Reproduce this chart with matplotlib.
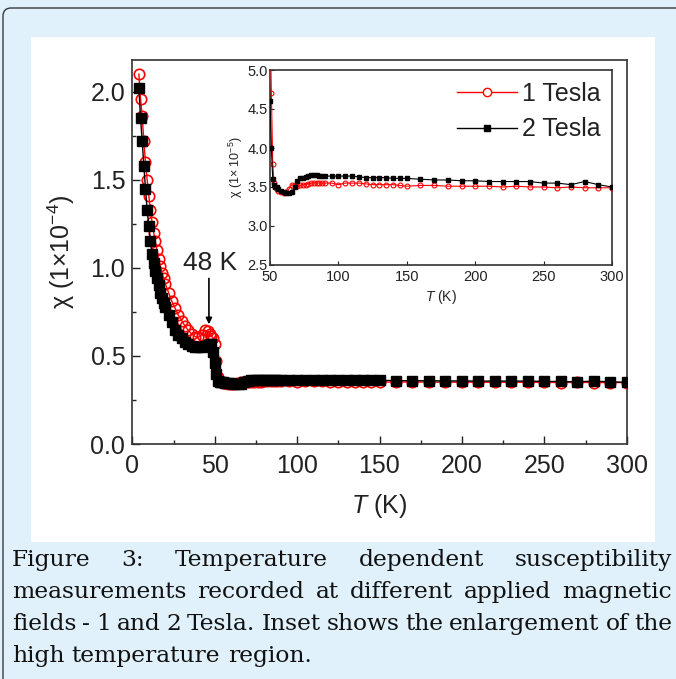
import matplotlib
matplotlib.use("Agg")
import matplotlib.pyplot as plt
from matplotlib.patches import FancyBboxPatch, Rectangle
from matplotlib.lines import Line2D
import numpy as np

plt.rcParams['font.family'] = ['Liberation Sans', 'DejaVu Sans']
plt.rcParams['mathtext.fontset'] = 'custom'
plt.rcParams['mathtext.rm'] = 'Liberation Sans'
plt.rcParams['mathtext.it'] = 'Liberation Sans:italic'

# ---------------- data (chi in units of 1e-4) ----------------
T = [4, 5, 6, 7, 8, 9, 10, 11, 12, 13, 14, 15, 16, 17, 18, 19, 20, 22, 24, 26,
     28, 30, 32, 34, 36, 38, 40, 42, 44, 46, 47, 48, 49, 50, 51, 52, 53, 54, 55,
     56, 58, 60, 62, 64, 66, 68, 70, 72, 74, 76, 78, 80, 82, 84, 86, 88, 90, 95,
     100, 105, 110, 115, 120, 125, 130, 135, 140, 145, 150, 160, 170, 180, 190,
     200, 210, 220, 230, 240, 250, 260, 270, 280, 290, 300]

chi_1T = [2.10, 1.96, 1.86, 1.72, 1.60, 1.50, 1.41, 1.33, 1.26, 1.20, 1.15, 1.10,
          1.05, 1.01, 0.97, 0.94, 0.91, 0.86, 0.81, 0.77, 0.73, 0.70, 0.67, 0.645,
          0.625, 0.61, 0.605, 0.62, 0.645, 0.64, 0.625, 0.615, 0.60, 0.57, 0.47,
          0.38, 0.355, 0.350, 0.348, 0.345, 0.343, 0.342, 0.343, 0.348, 0.353,
          0.352, 0.351, 0.352, 0.353, 0.353, 0.354, 0.355, 0.355, 0.355, 0.355,
          0.355, 0.355, 0.355, 0.353, 0.355, 0.355, 0.355, 0.354, 0.353, 0.353,
          0.353, 0.353, 0.352, 0.351, 0.352, 0.352, 0.351, 0.351, 0.351, 0.351,
          0.350, 0.351, 0.350, 0.350, 0.349, 0.350, 0.349, 0.349, 0.349]

chi_2T = [2.02, 1.85, 1.72, 1.58, 1.45, 1.33, 1.24, 1.15, 1.08, 1.03, 0.98, 0.94,
          0.90, 0.86, 0.83, 0.80, 0.78, 0.73, 0.69, 0.65, 0.62, 0.60, 0.58, 0.565,
          0.555, 0.55, 0.55, 0.55, 0.555, 0.56, 0.565, 0.57, 0.52, 0.46, 0.40,
          0.36, 0.352, 0.350, 0.350, 0.348, 0.345, 0.344, 0.342, 0.342, 0.343,
          0.350, 0.358, 0.362, 0.362, 0.363, 0.364, 0.365, 0.366, 0.366, 0.364,
          0.364, 0.364, 0.364, 0.364, 0.364, 0.364, 0.363, 0.362, 0.362, 0.362,
          0.362, 0.361, 0.361, 0.361, 0.360, 0.359, 0.359, 0.358, 0.358, 0.357,
          0.357, 0.357, 0.357, 0.355, 0.355, 0.353, 0.357, 0.353, 0.350]

labels = ['1 Tesla', '2 Tesla']
main_xticks = [0, 50, 100, 150, 200, 250, 300]
main_yticks = [0.0, 0.5, 1.0, 1.5, 2.0]
inset_xticks = [50, 100, 150, 200, 250, 300]
inset_yticks = [2.5, 3.0, 3.5, 4.0, 4.5, 5.0]

caption_lines = [
    "Figure 3: Temperature dependent susceptibility",
    "measurements recorded at different applied magnetic",
    "fields - 1 and 2 Tesla. Inset shows the enlargement of the",
    "high temperature region.",
]

# ---------------- figure ----------------
W, H = 676, 679
fig = plt.figure(figsize=(W / 100, H / 100), dpi=100)
fig.patch.set_facecolor('#e0f1fb')

def fx(px):
    return px / W

def fy(py):
    return 1 - py / H

outer = FancyBboxPatch((fx(3), fy(720)), fx(720), fy(8) - fy(720),
                       boxstyle="round,pad=0,rounding_size=0.012",
                       transform=fig.transFigure, facecolor='#e0f1fb',
                       edgecolor='#3a3a3a', linewidth=1.0, zorder=-20)
fig.patches.append(outer)
white = Rectangle((fx(31), fy(542)), fx(655) - fx(31), fy(37) - fy(542),
                  transform=fig.transFigure, facecolor='white',
                  edgecolor='none', zorder=-10)
fig.patches.append(white)

tick_color = '#222222'
spine_color = '#333333'

# main axes
ax = fig.add_axes([fx(132.3), fy(444), fx(626.7) - fx(132.3), fy(60) - fy(444)])
ax.plot(T, chi_1T, color='red', lw=1.0, marker='o', ms=7.5, mfc='none',
        mec='red', mew=1.2, zorder=3)
ax.plot(T, chi_2T, color='black', lw=1.0, marker='s', ms=6.5, mfc='black',
        mec='black', zorder=4)
ax.set_xlim(0, 300)
ax.set_ylim(0, 2.18)
ax.set_xticks(main_xticks)
ax.set_xticks([25, 75, 125, 175, 225, 275], minor=True)
ax.set_yticks(main_yticks)
ax.set_yticklabels([f"{v:.1f}" for v in main_yticks])
ax.set_yticks([0.25, 0.75, 1.25, 1.75], minor=True)
ax.tick_params(which='both', direction='in', top=False, right=False,
               labelsize=18, colors=tick_color, width=1.0)
ax.tick_params(which='major', length=6)
ax.tick_params(which='minor', length=3)
ax.tick_params(axis='x', pad=7)
ax.tick_params(axis='y', pad=5)
for s in ax.spines.values():
    s.set_color(spine_color)
    s.set_linewidth(1.2)
ax.set_xlabel('$T$ (K)', fontsize=18, color=tick_color, labelpad=10)
ax.set_ylabel('χ (1×10$^{-4}$)', fontsize=18, color=tick_color, labelpad=10)

ax.text(47.3, 1.03, '48 K', fontsize=19, color=tick_color, ha='center', va='center')
ax.annotate('', xy=(46.5, 0.68), xytext=(46.5, 0.94),
            arrowprops=dict(arrowstyle='-|>', lw=1.2, color='black',
                            mutation_scale=9, shrinkA=0, shrinkB=0))

# inset axes
axi = fig.add_axes([fx(270), fy(265), fx(612) - fx(270), fy(70) - fy(265)])
axi.set_facecolor('white')
T_arr = np.array(T)
axi.plot(T_arr, np.array(chi_1T) * 10, color='red', lw=0.8, marker='o', ms=3.5,
         mfc='none', mec='red', mew=0.8, zorder=3)
axi.plot(T_arr, np.array(chi_2T) * 10, color='black', lw=0.8, marker='s', ms=3,
         mfc='black', mec='black', zorder=4)
axi.set_xlim(50, 300)
axi.set_ylim(2.5, 5.0)
axi.set_xticks(inset_xticks)
axi.set_yticks(inset_yticks)
axi.set_yticklabels([f"{v:.1f}" for v in inset_yticks])
axi.tick_params(direction='in', length=3, width=0.8, labelsize=10.5,
                colors=tick_color)
axi.tick_params(axis='x', pad=3.5)
axi.tick_params(axis='y', pad=1.5)
for s in axi.spines.values():
    s.set_color(spine_color)
    s.set_linewidth(1.2)
axi.set_xlabel('$T$ (K)', fontsize=10, color=tick_color, labelpad=3)
axi.set_ylabel('χ (1× 10$^{-5}$)', fontsize=9, color=tick_color, labelpad=2)

handles = [Line2D([], [], color='red', lw=1.0, marker='o', ms=6, mfc='white', mec='red', mew=1.0),
           Line2D([], [], color='black', lw=1.0, marker='s', ms=5, mfc='black', mec='black')]
fig.legend(handles, labels, loc='upper right', bbox_to_anchor=(fx(601), fy(82)),
           frameon=False, fontsize=18, handlelength=2.4, handletextpad=0.2,
           labelspacing=0.45, borderpad=0, borderaxespad=0, labelcolor=tick_color)

# caption (justified)
renderer = fig.canvas.get_renderer()
cap_font = dict(family=['DejaVu Serif'], fontsize=16.8, color='#111111')
baselines = [566, 598, 630, 662]
x0, x1 = 12, 672
for i, (line, by) in enumerate(zip(caption_lines, baselines)):
    words = line.split(' ')
    txts = [fig.text(0, fy(by), w, va='baseline', ha='left', **cap_font) for w in words]
    widths = [t.get_window_extent(renderer).width for t in txts]
    if i < len(caption_lines) - 1:
        gap = (x1 - x0 - sum(widths)) / (len(words) - 1)
    else:
        sp = fig.text(0, 0, 'a a', **cap_font)
        sp2 = fig.text(0, 0, 'aa', **cap_font)
        gap = sp.get_window_extent(renderer).width - sp2.get_window_extent(renderer).width
        sp.remove(); sp2.remove()
    x = x0
    for t, w in zip(txts, widths):
        t.set_x(fx(x))
        x += w + gap

fig.savefig('out.png', dpi=100, facecolor=fig.get_facecolor())
